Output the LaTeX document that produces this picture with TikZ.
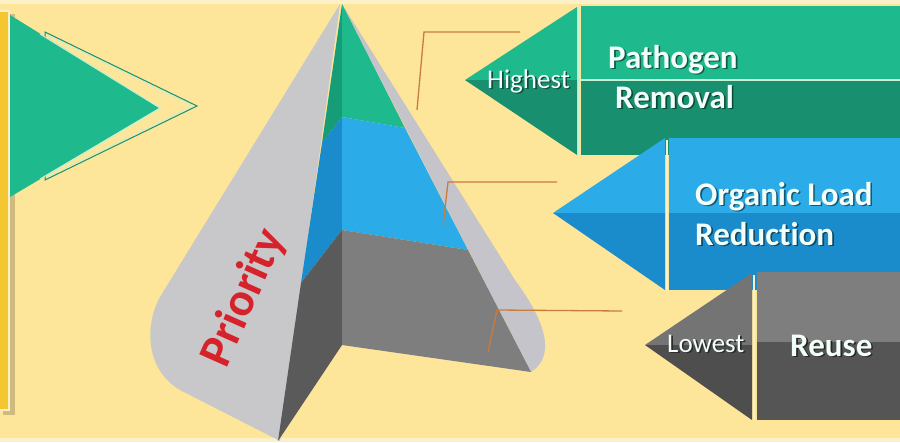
\documentclass[tikz,border=0pt]{standalone}
\usepackage{fontspec}
\setmainfont{Carlito}[Ligatures={NoCommon,NoRequired,NoContextual}]
\usetikzlibrary{shadows}

\definecolor{bg}{HTML}{FDE59A}
\definecolor{creamedge}{HTML}{FBF0C8}
\definecolor{barfill}{HTML}{F4C630}
\definecolor{greenA}{HTML}{1FB98E}
\definecolor{greenB}{HTML}{18906F}
\definecolor{greenC}{HTML}{169C76}
\definecolor{mint}{HTML}{C8F2D4}
\definecolor{blueA}{HTML}{2BACE8}
\definecolor{blueB}{HTML}{1B8CCB}
\definecolor{grayA}{HTML}{7E7E7E}
\definecolor{grayB}{HTML}{555555}
\definecolor{grayC}{HTML}{5A5A5A}
\definecolor{conelight}{HTML}{C8C8CA}
\definecolor{rim}{HTML}{C4C4CA}
\definecolor{leader}{HTML}{C97D3C}
\definecolor{prio}{HTML}{D6222B}
\definecolor{labeltext}{HTML}{F2FFF8}

% text with a small drop shadow in the given colour
\newcommand{\shadowlabel}[2]{\rlap{\kern1.6pt\raisebox{-1.6pt}{\textcolor{#1}{#2}}}#2}

\tikzset{
  leaderline/.style={draw=leader, line width=1.3pt},
  sepline/.style={draw=creamedge, line width=2.2pt},
  bigtext/.style={font=\fontsize{33}{33}\selectfont\bfseries, text=labeltext, inner sep=0pt, anchor=base west},
  smalltext/.style={font=\fontsize{27}{27}\selectfont, text=labeltext!85!white, inner sep=0pt, anchor=base west},
}

\begin{document}
\begin{tikzpicture}[x=1pt,y=-1pt]
\useasboundingbox (0,0) rectangle (900,442);

% background
\fill[bg] (0,0) rectangle (900,442);
\fill[creamedge] (0,0) rectangle (900,4);
\fill[creamedge] (0,438) rectangle (900,442);

% left yellow bar
\fill[black, opacity=0.18] (3,14) rectangle (15,415);
\fill[barfill] (0,11) rectangle (9,410);
\draw[creamedge, line width=1.8pt] (-2,11) -- (9,11) -- (9,410) -- (-2,410);

% left flag with its outline
\draw[draw=greenB, line width=1pt] (45,32) -- (197,106) -- (45,180) -- cycle;
\draw[draw=mint, line width=0.8pt] (47,35) -- (193,106) -- (47,177);
\fill[greenA] (10,15) -- (160,108) -- (10,197) -- cycle;
\draw[mint, line width=1pt] (40,34) -- (160,108) -- (40,179);

% cone: outer shell
\fill[conelight] (340,4) -- (160,297) .. controls (146,322) and (143,368) .. (180,390)
  -- (280,441) -- cycle;
\fill[rim] (342,4) -- (531,372) .. controls (556,356) and (546,322) .. (515,280) -- cycle;

% cone: left cut face
\fill[greenC] (342,4) -- (342,117) -- (322,143) -- cycle;
\fill[blueB] (342,117) -- (342,230) -- (301,283) -- (322,143) -- cycle;
\fill[grayC] (342,230) -- (342,345) -- (278,441) -- (301,283) -- cycle;
% cone: right cut face
\fill[greenA] (342,4) -- (405,128) -- (342,117) -- cycle;
\fill[blueA] (342,117) -- (405,128) -- (468,250) -- (342,230) -- cycle;
\fill[grayA] (342,230) -- (468,250) -- (531,372) -- (342,345) -- cycle;

% cone label
\node[font=\fontsize{47}{47}\selectfont\bfseries, text=prio, rotate=66, inner sep=0pt]
  (prioritylabel) at (244,298) {Priority};

% leader lines
\coordinate (l1a) at (520,32);
\coordinate (l1b) at (424,32);
\coordinate (l1c) at (417,110);
\coordinate (l2a) at (557,182);
\coordinate (l2b) at (448,182);
\coordinate (l2c) at (443,226);
\coordinate (l3a) at (622,311);
\coordinate (l3b) at (497,310);
\coordinate (l3c) at (488,352);
\draw[leaderline] (l1a) -- (l1b) -- (l1c);
\draw[leaderline] (l2a) -- (l2b) -- (l2c);
\draw[leaderline] (l3a) -- (l3b) -- (l3c);

% arrow 1: pathogen removal
\fill[greenA] (465,80) -- (577,7) -- (577,80) -- cycle;
\fill[greenB] (465,80) -- (577,155) -- (577,80) -- cycle;
\fill[greenA] (581,6) rectangle (900,80);
\fill[greenB] (581,80) rectangle (900,155);
\draw[sepline, draw=mint] (579,7) -- (579,155);
\draw[mint, line width=1.4pt] (580,80) -- (900,80);

% arrow 2: organic load reduction
\fill[blueA] (553,213) -- (665,138) -- (665,213) -- cycle;
\fill[blueB] (553,213) -- (665,290) -- (665,213) -- cycle;
\fill[blueA] (669,138) rectangle (900,213);
\fill[blueB] (669,213) rectangle (900,290);
\draw[sepline] (667,140) -- (667,290);

% arrow 3: reuse
\fill[grayA!92!black] (645,345) -- (752,273) -- (752,345) -- cycle;
\fill[grayB!92!black] (645,345) -- (752,420) -- (752,345) -- cycle;
\fill[grayA] (757,272) rectangle (900,342);
\fill[grayB] (757,342) rectangle (900,420);
\draw[sepline] (754,275) -- (754,420);

% arrow labels
\node[bigtext] (path) at (608,68) {\shadowlabel{greenA!50!black}{Pathogen}};
\node[bigtext] (rem) at (615,108) {\shadowlabel{greenB!50!black}{Removal}};
\node[smalltext] (high) at (487,88) {\shadowlabel{greenB!55!black}{Highest}};

\node[bigtext] (org) at (695,205) {\shadowlabel{blueA!50!black}{Organic Load}};
\node[bigtext] (red) at (695,245) {\shadowlabel{blueB!50!black}{Reduction}};

\node[smalltext] (low) at (667,352) {\shadowlabel{grayB!50!black}{Lowest}};
\node[bigtext] (reuse) at (790,356) {\shadowlabel{grayB!45!black}{Reuse}};
\end{tikzpicture}
\end{document}
